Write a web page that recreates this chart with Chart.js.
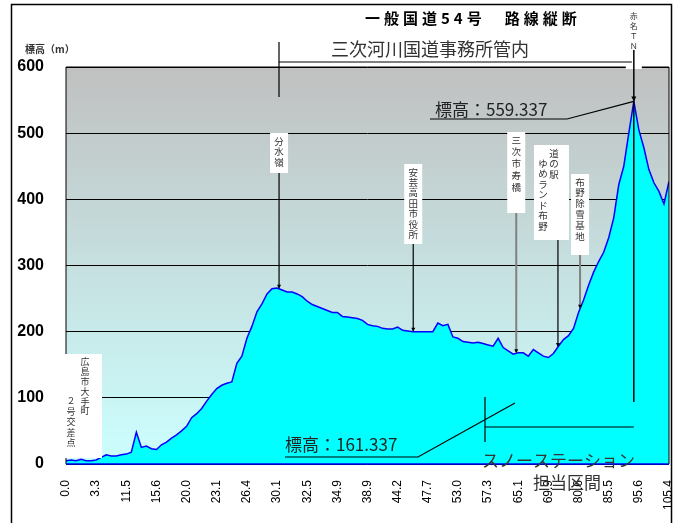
<!DOCTYPE html>
<html>
<head>
<meta charset="utf-8">
<script src="https://cdn.jsdelivr.net/npm/chart.js@4.4.0/dist/chart.umd.min.js"></script>
<style>
  body { margin: 0; background: #fff; }
  #wrap { width: 677px; height: 523px; }
</style>
</head>
<body>
<div id="wrap"><canvas id="chartCanvas" width="677" height="523"></canvas></div>
<script>
// distance labels (km) shown under the axis
const tickLabels = ["0.0", "3.3", "11.5", "15.6", "20.0", "23.1", "26.4", "30.1", "32.5", "34.9",
    "38.9", "44.2", "47.7", "53.0", "57.3", "65.1", "69.9", "80.6", "85.5", "95.6", "105.4"];
const yTicks = [0, 100, 200, 300, 400, 500, 600];

// elevation (m), one point per profile step
const elevation = [
    5, 6, 5, 7, 5, 5, 6, 10, 14, 12,
    12, 14, 15, 18, 48, 25, 27, 23, 22, 29,
    33, 39, 44, 50, 57, 70, 76, 84, 95, 105,
    114, 119, 122, 124, 152, 163, 190, 208, 230, 242,
    257, 265, 266, 263, 260, 260, 257, 253, 246, 241,
    238, 235, 232, 229, 229, 223, 222, 221, 220, 217,
    211, 209, 208, 205, 204, 204, 207, 202, 201, 200,
    200, 200, 200, 200, 213, 209, 211, 192, 190, 185,
    184, 183, 184, 182, 180, 178, 190, 176, 171, 166,
    168, 168, 163, 173, 168, 163, 161, 167, 178, 188,
    194, 205, 229, 248, 270, 290, 306, 320, 342, 372,
    422, 450, 500, 548, 505, 478, 445, 425, 412, 393,
    427
];
const labelEvery = 6;

// landmarks: name columns (right to left), position along profile
const landmarks = [
    { cols: ["分水嶺"], idx: 42.4, top: 133, bottom: 173, step: 10.5, color: "#000" },
    { cols: ["安芸高田市役所"], idx: 69.1, top: 164, bottom: 244, step: 10.4, color: "#000" },
    { cols: ["三次市寿橋"], idx: 89.6, top: 132, bottom: 213, step: 11.8, color: "#808080" },
    { cols: ["道の駅", "ゆめランド布野"], idx: 97.9, top: 145, bottom: 240, step: 10.5, color: "#000" },
    { cols: ["布野除雪基地"], idx: 102.3, top: 174, bottom: 255, step: 10.8, color: "#808080" }
];

function elevAt(i) {
    const a = Math.floor(i), b = Math.min(a + 1, elevation.length - 1);
    return elevation[a] + (elevation[b] - elevation[a]) * (i - a);
}

const JP = '"Noto Sans CJK JP", sans-serif';

function vText(ctx, str, x, y, step) {
    for (let k = 0; k < str.length; k++) {
        ctx.fillText(str[k], x, y + k * step);
    }
}

const bgPlugin = {
    id: "bg",
    beforeDraw(chart) {
        const ctx = chart.ctx, a = chart.chartArea;
        ctx.save();
        ctx.fillStyle = "#fff";
        ctx.fillRect(0, 0, chart.width, chart.height);
        const g = ctx.createLinearGradient(0, a.top, 0, a.bottom);
        g.addColorStop(0, "#c0c0c0");
        g.addColorStop(1, "#ccffff");
        ctx.fillStyle = g;
        ctx.fillRect(a.left, a.top, a.right - a.left, a.bottom - a.top);
        ctx.restore();
    }
};

const notesPlugin = {
    id: "notes",
    afterDatasetsDraw(chart) {
        const ctx = chart.ctx, a = chart.chartArea;
        const xs = chart.scales.x, ys = chart.scales.y;
        ctx.save();

        // plot frame
        ctx.strokeStyle = "#000";
        ctx.lineWidth = 1;
        ctx.beginPath();
        ctx.moveTo(a.left, a.bottom);
        ctx.lineTo(a.left, a.top);
        ctx.lineTo(a.right, a.top);
        ctx.lineTo(a.right, a.bottom);
        ctx.stroke();
        ctx.strokeStyle = "#0000ff";
        ctx.lineWidth = 1.5;
        ctx.beginPath();
        ctx.moveTo(a.left, a.bottom);
        ctx.lineTo(a.right, a.bottom);
        ctx.stroke();

        // outer frame
        ctx.strokeStyle = "#000";
        ctx.lineWidth = 1.5;
        ctx.strokeRect(11.5, 4.5, 660, 530);

        // title
        ctx.fillStyle = "#000";
        ctx.font = "bold 15px " + JP;
        ctx.textAlign = "left";
        ctx.textBaseline = "middle";
        ctx.letterSpacing = "4px";
        ctx.fillText("一般国道54号　路線縦断", 365, 18);
        ctx.letterSpacing = "0px";

        ctx.fillStyle = "#333";
        ctx.font = "bold 10px " + JP;
        ctx.fillText("標高（m）", 25, 49);

        // office section bracket
        ctx.fillStyle = "#333";
        ctx.font = "18px " + JP;
        ctx.fillText("三次河川国道事務所管内", 331, 49);

        // peak
        let peakIdx = 0;
        elevation.forEach((v, i) => { if (v > elevation[peakIdx]) peakIdx = i; });
        const px = xs.getPixelForValue(peakIdx);
        const py = ys.getPixelForValue(elevation[peakIdx]);

        ctx.strokeStyle = "#000";
        ctx.lineWidth = 1.2;
        ctx.beginPath();
        ctx.moveTo(279, 42); ctx.lineTo(279, 97);
        ctx.moveTo(279, 62); ctx.lineTo(px - 2, 62);
        ctx.stroke();

        // white gap at the top frame near the peak line
        ctx.fillStyle = "#fff";
        ctx.fillRect(px - 8, 64, 16, 5);

        // 赤名TN label and line down through peak
        ctx.fillStyle = "#333";
        ctx.font = "8px " + JP;
        ctx.textAlign = "center";
        vText(ctx, "赤名ＴＮ", px, 16, 10);
        ctx.strokeStyle = "#000";
        ctx.lineWidth = 1.5;
        ctx.beginPath();
        ctx.moveTo(px, 50); ctx.lineTo(px, 402);
        ctx.stroke();
        ctx.fillStyle = "#000";
        ctx.beginPath();
        ctx.moveTo(px - 2.5, py - 5); ctx.lineTo(px + 2.5, py - 5); ctx.lineTo(px, py);
        ctx.fill();

        // peak elevation label
        ctx.font = "17px " + JP;
        ctx.textAlign = "left";
        ctx.fillStyle = "#222";
        ctx.fillText("標高：559.337", 435, 110);
        ctx.lineWidth = 1.2;
        ctx.beginPath();
        ctx.moveTo(430, 119); ctx.lineTo(567, 119); ctx.lineTo(px, py);
        ctx.stroke();

        // low point label
        ctx.fillText("標高：161.337", 285, 445);
        ctx.beginPath();
        ctx.moveTo(285, 457); ctx.lineTo(418, 457); ctx.lineTo(515, 403);
        ctx.moveTo(485, 397); ctx.lineTo(485, 442);
        ctx.moveTo(485, 427); ctx.lineTo(px, 427);
        ctx.stroke();

        ctx.fillStyle = "#333";
        ctx.fillText("スノーステーション", 482, 461);
        ctx.fillText("担当区間", 533, 483);

        // start point box
        ctx.fillStyle = "#fff";
        ctx.fillRect(62, 354, 40, 104);
        ctx.fillStyle = "#333";
        ctx.font = "9px " + JP;
        ctx.textAlign = "center";
        vText(ctx, "広島市大手町", 85, 362, 9.8);
        vText(ctx, "２号交差点", 71, 401, 10.4);

        // landmarks
        ctx.font = "9.5px " + JP;
        landmarks.forEach(m => {
            const x = xs.getPixelForValue(m.idx);
            const tipY = ys.getPixelForValue(elevAt(m.idx));
            const w = m.cols.length > 1 ? 35 : 18;
            const bx = m.cols.length > 1 ? x - 24 : x - 9;
            ctx.fillStyle = "#fff";
            ctx.fillRect(bx, m.top, w, m.bottom - m.top);
            ctx.fillStyle = "#333";
            m.cols.forEach((c, k) => {
                const cx = m.cols.length > 1 ? (k === 0 ? x - 4 : x - 15) : x;
                const cy = m.cols.length > 1 ? (k === 0 ? m.top + 8 : m.top + 18) : m.top + 8;
                vText(ctx, c, cx, cy, m.step);
            });
            ctx.strokeStyle = m.color;
            ctx.lineWidth = m.color === "#000" ? 1.2 : 2;
            ctx.beginPath();
            ctx.moveTo(x, m.bottom); ctx.lineTo(x, tipY - 1);
            ctx.stroke();
            ctx.fillStyle = "#000";
            ctx.beginPath();
            ctx.moveTo(x - 2, tipY - 4); ctx.lineTo(x + 2, tipY - 4); ctx.lineTo(x, tipY);
            ctx.fill();
        });

        ctx.restore();
    }
};

new Chart(document.getElementById("chartCanvas"), {
    type: "line",
    data: {
        datasets: [{
            data: elevation.map((v, i) => ({ x: i, y: v })),
            fill: "origin",
            backgroundColor: "#00ffff",
            borderColor: "#0000ff",
            borderWidth: 1.5,
            pointRadius: 0,
            tension: 0
        }]
    },
    options: {
        responsive: false,
        animation: false,
        layout: { padding: { top: 67, right: 8, left: 0, bottom: 0 } },
        plugins: { legend: { display: false }, tooltip: { enabled: false } },
        scales: {
            x: {
                type: "linear",
                min: 0,
                max: elevation.length - 1,
                afterFit: s => {
                    s.height = 59;
                    s.paddingLeft = 0;
                    s.paddingRight = 0;
                },
                afterBuildTicks: s => {
                    s.ticks = tickLabels.map((t, k) => ({ value: k * labelEvery }));
                },
                grid: { display: false, drawTicks: false },
                border: { display: false },
                ticks: {
                    autoSkip: false,
                    minRotation: 90,
                    maxRotation: 90,
                    padding: 16,
                    color: "#000",
                    font: { family: "Arial, 'Liberation Sans'", size: 12 },
                    callback: v => tickLabels[v / labelEvery]
                }
            },
            y: {
                min: 0,
                max: 600,
                afterFit: s => {
                    s.width = 66;
                    s.paddingTop = 0;
                    s.paddingBottom = 0;
                },
                afterBuildTicks: s => {
                    s.ticks = yTicks.map(v => ({ value: v }));
                },
                grid: { color: "#000", lineWidth: 1, drawTicks: false },
                border: { display: false },
                ticks: {
                    padding: 22,
                    color: "#000",
                    font: { family: "Arial, 'Liberation Sans'", size: 16, weight: "bold" }
                }
            }
        }
    },
    plugins: [bgPlugin, notesPlugin]
});
</script>
</body>
</html>
